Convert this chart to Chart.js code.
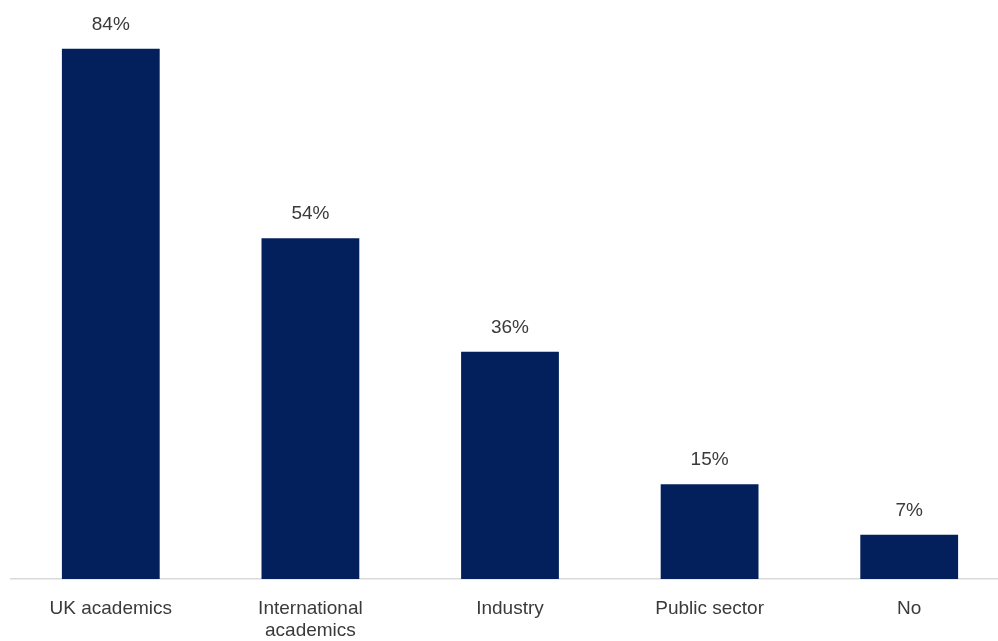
<!DOCTYPE html>
<html>
<head>
<meta charset="utf-8">
<script src="https://cdn.jsdelivr.net/npm/chart.js@4/dist/chart.umd.min.js"></script>
<style>
  html, body { margin: 0; padding: 0; background: #fff; overflow: hidden; }
  #wrap { width: 1010px; height: 641px; }
</style>
</head>
<body>
<div id="wrap"><canvas id="chart" width="1010" height="641"></canvas></div>
<script>
// Share of respondents by group
const categories = ['UK academics', ['International', 'academics'], 'Industry', 'Public sector', 'No'];
const shares = [84, 54, 36, 15, 7];

const barColor = '#03205c';
const textColor = '#3a3a3a';
const fontFamily = '"Liberation Sans", Arial, sans-serif';

// Draws the percentage above each bar
const valueLabels = {
    id: 'valueLabels',
    afterDatasetsDraw(chart) {
        const ctx = chart.ctx;
        const meta = chart.getDatasetMeta(0);
        ctx.save();
        ctx.fillStyle = textColor;
        ctx.font = '19px ' + fontFamily;
        ctx.textAlign = 'center';
        ctx.textBaseline = 'bottom';
        meta.data.forEach((bar, i) => {
            ctx.fillText(shares[i] + '%', bar.x, bar.y - 15);
        });
        ctx.restore();
    }
};

const ctx = document.getElementById('chart').getContext('2d');
new Chart(ctx, {
    type: 'bar',
    data: {
        labels: categories,
        datasets: [{
            data: shares,
            backgroundColor: barColor,
            borderWidth: 0,
            barPercentage: 0.49,
            categoryPercentage: 1
        }]
    },
    options: {
        responsive: false,
        animation: false,
        layout: { padding: { left: 11, right: 1, top: 11, bottom: 0 } },
        plugins: {
            legend: { display: false },
            tooltip: { enabled: false }
        },
        scales: {
            x: {
                grid: { display: false },
                border: { display: true, color: '#d9d9d9', width: 1.5 },
                ticks: {
                    color: textColor,
                    font: { family: fontFamily, size: 19 },
                    padding: 10,
                    maxRotation: 0,
                    autoSkip: false
                },
                afterFit(scale) { scale.height = 62; }
            },
            y: {
                display: false,
                min: 0,
                max: 90
            }
        }
    },
    plugins: [valueLabels]
});
</script>
</body>
</html>
